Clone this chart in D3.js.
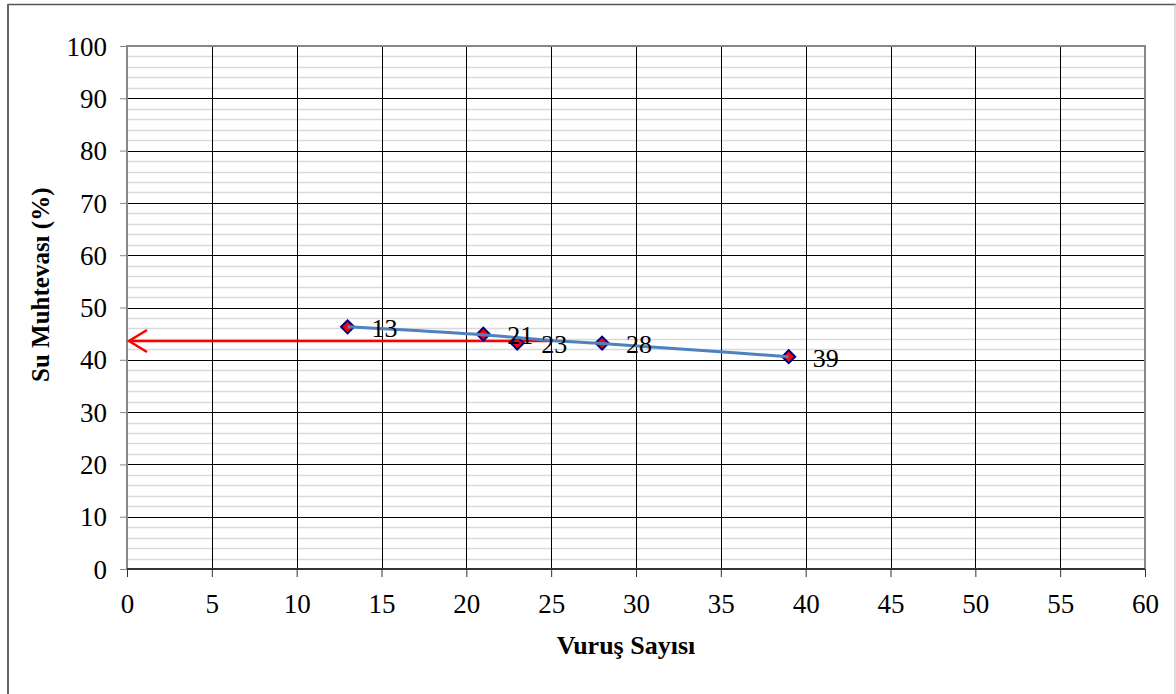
<!DOCTYPE html>
<html><head><meta charset="utf-8">
<script src="https://cdn.jsdelivr.net/npm/d3@7"></script>
<style>body{margin:0;background:#fff;}svg{display:block;}</style>
</head><body>
<svg id="c" width="1176" height="694"></svg>
<script>
const blows = [13, 21, 23, 28, 39];
const water = [46.3, 44.9, 43.2, 43.2, 40.6];
const trendX = [13, 17, 21, 25, 28, 32, 36, 39];
const trendY = [46.3, 45.6, 44.8, 43.7, 43.1, 42.2, 41.3, 40.6];
const arrowX = [25, 0];
const arrowY = [43.6, 43.6];
const xTicks = d3.range(0, 61, 5);
const yTicks = d3.range(0, 101, 10);
const xTitle = "Vuruş Sayısı";
const yTitle = "Su Muhtevası (%)";

const svg = d3.select("#c");
const L = 127, R = 1145, T = 46, B = 569;
const x = d3.scaleLinear().domain([0, 60]).range([L, R]);
const y = d3.scaleLinear().domain([0, 100]).range([B, T]);
const font = "Liberation Serif, Times New Roman, serif";

// outer border
svg.append("line").attr("x1",8).attr("x2",1176).attr("y1",4.5).attr("y2",4.5).attr("stroke","#555").attr("stroke-width",1.5);
svg.append("line").attr("x1",8).attr("x2",8).attr("y1",4).attr("y2",694).attr("stroke","#666").attr("stroke-width",2);
svg.append("line").attr("x1",1175).attr("x2",1175).attr("y1",4).attr("y2",694).attr("stroke","#bbb").attr("stroke-width",1);

// minor grid
const g = svg.append("g");
g.selectAll(".mn").data(d3.range(0, 100, 2).filter(v => v % 10 !== 0)).enter().append("line")
  .attr("x1", L).attr("x2", R).attr("y1", d => Math.round(y(d))+0.5).attr("y2", d => Math.round(y(d))+0.5)
  .attr("stroke", "#d9d9d9").attr("stroke-width", 1.3);
// major grid
g.selectAll(".mjy").data(yTicks.filter(v => v > 0 && v < 100)).enter().append("line")
  .attr("x1", L).attr("x2", R).attr("y1", d => Math.round(y(d))+0.5).attr("y2", d => Math.round(y(d))+0.5)
  .attr("stroke", "#000").attr("stroke-width", 1);
g.selectAll(".mjx").data(xTicks.filter(v => v > 0 && v < 60)).enter().append("line")
  .attr("y1", T).attr("y2", B).attr("x1", d => Math.round(x(d))+0.5).attr("x2", d => Math.round(x(d))+0.5)
  .attr("stroke", "#000").attr("stroke-width", 1);

// plot frame
svg.append("rect").attr("x", L).attr("y", T).attr("width", R-L).attr("height", B-T)
  .attr("fill", "none").attr("stroke", "#888").attr("stroke-width", 2);
svg.append("line").attr("x1", L).attr("x2", R).attr("y1", B).attr("y2", B).attr("stroke", "#333").attr("stroke-width", 2);

// axes
const xa = svg.append("g").attr("transform", `translate(0,${B})`)
  .call(d3.axisBottom(x).tickValues(xTicks).tickSize(8).tickSizeOuter(0).tickPadding(17));
xa.select(".domain").remove();
xa.selectAll("line").attr("stroke", "#333");
xa.selectAll("text").style("font-family", font).style("font-size", "27px").attr("fill","#000");
const ya = svg.append("g").attr("transform", `translate(${L},0)`)
  .call(d3.axisLeft(y).tickValues(yTicks).tickSize(7).tickSizeOuter(0).tickPadding(13));
ya.select(".domain").remove();
ya.selectAll("line").attr("stroke", "#888");
ya.selectAll("text").style("font-family", font).style("font-size", "27px").attr("fill","#000").attr("dy","0.34em");

// titles
svg.append("text").attr("x", 626).attr("y", 654).attr("text-anchor","middle")
  .style("font-family", font).style("font-weight","bold").style("font-size", "26px").text(xTitle);
svg.append("text").attr("transform", `translate(49,382) rotate(-90)`).attr("text-anchor","start")
  .style("font-family", font).style("font-weight","bold").style("font-size", "25px").text(yTitle);

// red arrow
const ay = y(arrowY[0]);
svg.append("line").attr("x1", x(arrowX[0])).attr("x2", x(arrowX[1])+2).attr("y1", ay).attr("y2", ay)
  .attr("stroke", "#ff0000").attr("stroke-width", 2.5);
svg.append("path").attr("d", `M${x(arrowX[1])+20},${ay-11} L${x(arrowX[1])+2},${ay} L${x(arrowX[1])+20},${ay+11}`)
  .attr("fill","none").attr("stroke","#ff0000").attr("stroke-width", 2.5);

// markers
const pts = blows.map((b,i) => ({b, w: water[i]}));
svg.selectAll(".pt").data(pts).enter().append("path")
  .attr("d", d3.symbol().type(d3.symbolSquare).size(85)())
  .attr("transform", d => `translate(${x(d.b)},${y(d.w)}) rotate(45)`)
  .attr("fill", "#ff0000").attr("stroke", "#000080").attr("stroke-width", 2);

// trend line
svg.append("path").datum(trendX.map((v,i)=>[v,trendY[i]]))
  .attr("d", d3.line().x(d=>x(d[0])).y(d=>y(d[1])).curve(d3.curveMonotoneX))
  .attr("fill","none").attr("stroke","#4f81bd").attr("stroke-width",3);

// labels
svg.selectAll(".lb").data(pts).enter().append("text")
  .attr("x", d => x(d.b) + 24).attr("y", d => y(d.w) + 10)
  .style("font-family", font).style("font-size", "26px").attr("fill","#000").text(d => d.b);
</script>
</body></html>
